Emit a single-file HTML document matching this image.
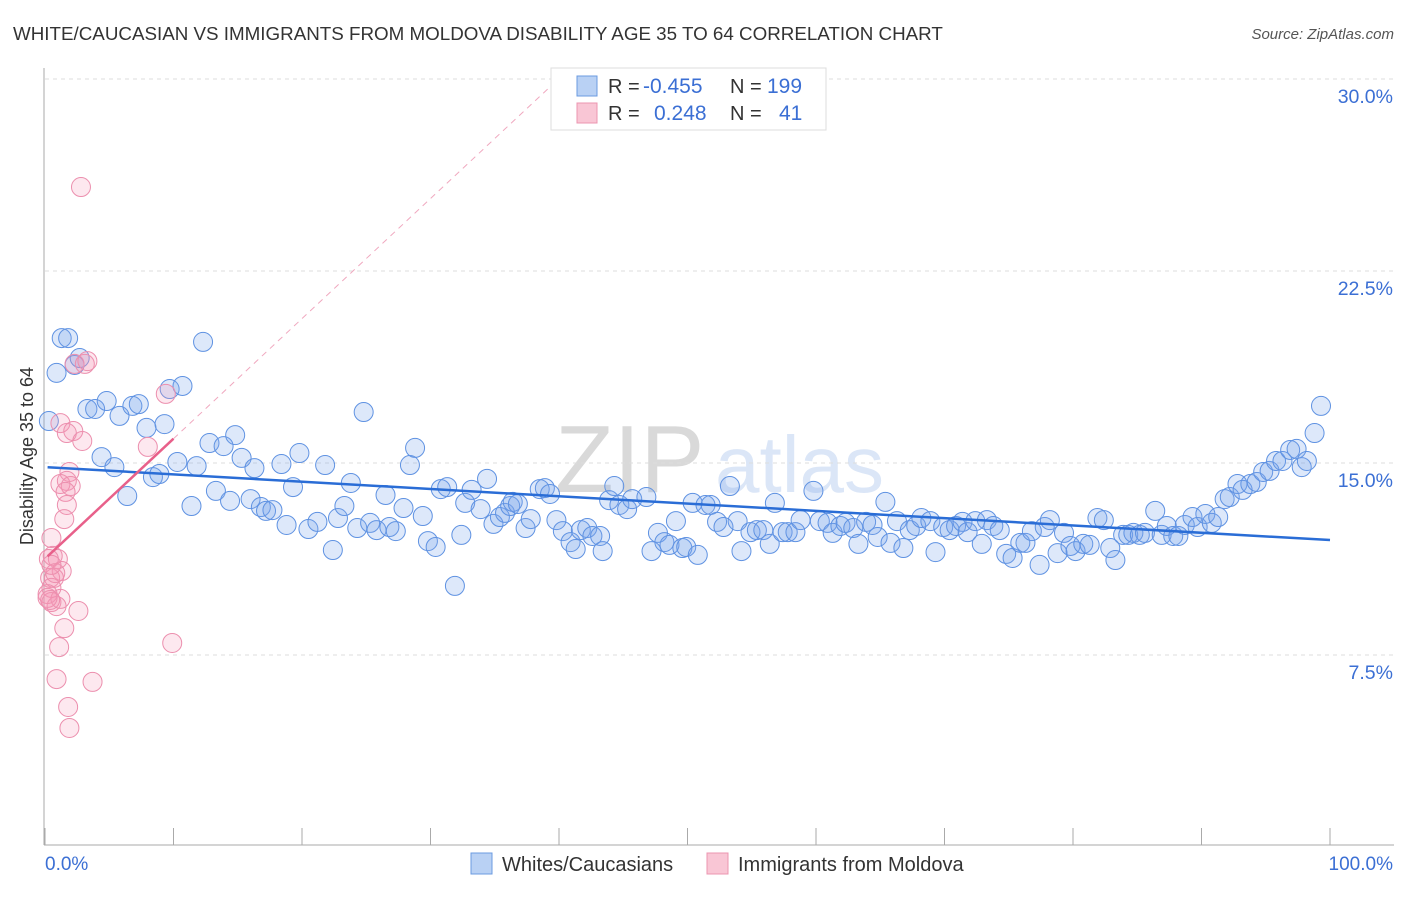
<!DOCTYPE html>
<html><head><meta charset="utf-8"><style>
body{margin:0;background:#fff;font-family:"Liberation Sans",sans-serif;}
svg text{font-family:"Liberation Sans",sans-serif;}
</style></head><body>
<svg id="chart" width="1406" height="892" xmlns="http://www.w3.org/2000/svg">
<text x="13" y="40" font-size="18.8" fill="#333">WHITE/CAUCASIAN VS IMMIGRANTS FROM MOLDOVA DISABILITY AGE 35 TO 64 CORRELATION CHART</text>
<text x="1394" y="39" font-size="15" fill="#555" font-style="italic" text-anchor="end">Source: ZipAtlas.com</text>
<g>
<text x="555" y="492" font-family="Liberation Serif,serif" font-size="96" fill="#d9d9d9">ZIP</text>
<text x="715" y="492" font-size="80" fill="#dbe6f7">atlas</text>
</g>
<g id="grid"></g>
<g id="axes"></g>
<g id="pts"></g>
<g id="trend"></g>
<text transform="translate(33,456) rotate(-90)" font-size="18" fill="#333" text-anchor="middle">Disability Age 35 to 64</text>
<g>
<rect x="551" y="68" width="275" height="62" fill="#fff" stroke="#ddd"/>
<rect x="577" y="76" width="20" height="20" fill="#b9d1f4" stroke="#6b9be0"/>
<rect x="577" y="103" width="20" height="20" fill="#f9c6d5" stroke="#ec95b0"/>
<text x="608" y="93" font-size="20" fill="#333">R =</text>
<text x="643" y="93" font-size="21" fill="#3b6fd4">-0.455</text>
<text x="730" y="93" font-size="20" fill="#333">N =</text>
<text x="767" y="93" font-size="21" fill="#3b6fd4">199</text>
<text x="608" y="120" font-size="20" fill="#333">R =</text>
<text x="654" y="120" font-size="21" fill="#3b6fd4">0.248</text>
<text x="730" y="120" font-size="20" fill="#333">N =</text>
<text x="779" y="120" font-size="21" fill="#3b6fd4">41</text>
</g>
<g>
<rect x="471" y="853" width="21" height="21" fill="#b9d1f4" stroke="#6b9be0"/>
<text x="502" y="871" font-size="20" fill="#333">Whites/Caucasians</text>
<rect x="707" y="853" width="21" height="21" fill="#f9c6d5" stroke="#ec95b0"/>
<text x="738" y="871" font-size="20" fill="#333">Immigrants from Moldova</text>
</g>
</svg>
<script>
const yTicks=[7.5,15,22.5,30];
const yTickLabels=["7.5%","15.0%","22.5%","30.0%"];
const xTicks=[0,10,20,30,40,50,60,70,80,90,100];
const blueX=[0.3,0.9,1.3,1.8,2.3,2.7,3.3,3.9,4.4,4.8,5.4,5.8,6.4,6.8,7.3,7.9,8.4,8.9,9.3,9.7,10.3,10.7,11.4,11.8,12.3,12.8,13.3,13.9,14.4,14.8,15.3,16.0,16.3,16.8,17.2,17.7,18.4,18.8,19.3,19.8,20.5,21.2,21.8,22.4,22.8,23.3,23.8,24.3,24.8,25.3,25.8,26.5,26.8,27.3,27.9,28.4,28.8,29.4,29.8,30.4,30.8,31.3,31.9,32.4,32.7,33.2,33.9,34.4,34.9,35.4,35.8,36.2,36.4,36.8,37.4,37.8,38.5,38.9,39.3,39.8,40.3,40.9,41.3,41.7,42.2,42.6,43.2,43.4,43.9,44.3,44.7,45.3,45.7,46.8,47.2,47.7,48.2,48.6,49.1,49.6,49.9,50.4,50.8,51.4,51.8,52.3,52.8,53.3,53.9,54.2,54.9,55.4,55.9,56.4,56.8,57.4,57.8,58.4,58.8,59.8,60.3,60.9,61.3,61.9,62.3,62.9,63.3,63.9,64.4,64.8,65.4,65.8,66.3,66.8,67.3,67.8,68.2,68.9,69.3,69.9,70.4,70.9,71.4,71.8,72.4,72.9,73.3,73.8,74.3,74.8,75.3,75.9,76.3,76.8,77.4,77.8,78.2,78.8,79.3,79.8,80.2,80.8,81.3,81.9,82.4,82.9,83.3,83.9,84.3,84.7,85.2,85.6,86.4,86.9,87.3,87.8,88.2,88.7,89.3,89.7,90.3,90.8,91.3,91.8,92.2,92.8,93.2,93.8,94.3,94.8,95.3,95.8,96.3,96.9,97.4,97.8,98.2,98.8,99.3];
const blueY=[16.64,18.52,19.88,19.88,18.83,19.10,17.11,17.11,15.23,17.42,14.84,16.84,13.71,17.23,17.30,16.37,14.45,14.57,16.52,17.89,15.04,18.01,13.32,14.88,19.73,15.78,13.91,15.66,13.52,16.09,15.20,13.59,14.80,13.28,13.13,13.16,14.96,12.58,14.06,15.39,12.42,12.70,14.92,11.60,12.85,13.32,14.22,12.46,16.99,12.66,12.38,13.75,12.50,12.34,13.24,14.92,15.59,12.93,11.95,11.72,13.98,14.06,10.20,12.19,13.44,13.95,13.20,14.38,12.62,12.89,13.05,13.32,13.48,13.40,12.46,12.81,13.98,14.02,13.79,12.77,12.34,11.91,11.64,12.38,12.46,12.15,12.15,11.56,13.55,14.10,13.36,13.20,13.59,13.67,11.56,12.27,11.91,11.80,12.73,11.68,11.72,13.44,11.41,13.36,13.36,12.70,12.50,14.10,12.73,11.56,12.30,12.38,12.38,11.84,13.44,12.30,12.30,12.30,12.77,13.91,12.73,12.66,12.27,12.54,12.66,12.46,11.84,12.70,12.58,12.11,13.48,11.88,12.73,11.68,12.38,12.54,12.85,12.73,11.52,12.50,12.38,12.54,12.70,12.30,12.73,11.84,12.77,12.54,12.38,11.45,11.29,11.88,11.88,12.34,11.02,12.50,12.77,11.48,12.27,11.76,11.56,11.84,11.80,12.85,12.77,11.68,11.21,12.19,12.19,12.27,12.19,12.27,13.13,12.19,12.54,12.15,12.15,12.58,12.89,12.50,13.01,12.66,12.89,13.59,13.67,14.18,13.95,14.18,14.26,14.65,14.69,15.08,15.08,15.51,15.55,14.84,15.08,16.17,17.23];
const pinkX=[2.8,2.3,3.1,3.3,9.4,1.2,2.2,1.7,2.9,8.0,1.9,1.7,1.2,2.0,1.6,1.7,1.5,0.5,0.6,1.0,0.3,1.3,0.4,0.7,0.5,0.2,0.5,1.2,2.6,0.9,1.5,1.1,9.9,0.9,3.7,1.8,1.9,0.8,0.5,0.2,0.4];
const pinkY=[25.78,18.87,18.87,18.98,17.70,16.56,16.25,16.17,15.86,15.63,14.65,14.30,14.18,14.10,13.87,13.36,12.81,12.07,11.37,11.25,11.25,10.78,10.51,10.51,10.12,9.88,9.57,9.69,9.22,9.41,8.55,7.81,7.97,6.56,6.45,5.47,4.65,10.70,11.02,9.73,9.65];
const blueTrend=[14.84,11.99]; // value at x=0 and x=100
const pinkTrend=[11.26,0.469]; // intercept, slope
const NS="http://www.w3.org/2000/svg";
function sx(v){return 45+v*12.85;}
function sy(v){return 847-v*25.6;}
function mk(tag,attrs,parent){const e=document.createElementNS(NS,tag);for(const k in attrs)e.setAttribute(k,attrs[k]);document.getElementById(parent).appendChild(e);return e;}
yTicks.forEach((t,i)=>{
 const l=mk('line',{x1:45,x2:1394,y1:sy(t),y2:sy(t),stroke:'#ddd','stroke-dasharray':'4,4'},'grid');
 
 
 const tx=mk('text',{x:1393,y:sy(t)+24,'font-size':19.5,fill:'#3b6fd4','text-anchor':'end'},'grid');
 tx.textContent=yTickLabels[i];
 
 
});
const ax=mk('line',{x1:44,x2:44,y1:68,y2:845,stroke:'#aaa'},'axes');


const bx=mk('line',{x1:44,x2:1394,y1:845,y2:845,stroke:'#aaa'},'axes');


xTicks.forEach(t=>{
 const l=mk('line',{x1:sx(t),x2:sx(t),y1:828,y2:845,stroke:'#aaa'},'axes');
 
 
});
const xl0=mk('text',{x:45,y:870,'font-size':19,fill:'#3b6fd4'},'axes');xl0.textContent='0.0%';


const xl1=mk('text',{x:1393,y:870,'font-size':19,fill:'#3b6fd4','text-anchor':'end'},'axes');xl1.textContent='100.0%';


blueX.forEach((x,i)=>{
 const c=mk('circle',{cx:sx(x),cy:sy(blueY[i]),r:9.5,fill:'rgba(120,165,235,0.25)',stroke:'#5f92e2','stroke-width':1},'pts');
 
 
});
pinkX.forEach((x,i)=>{
 const c=mk('circle',{cx:sx(x),cy:sy(pinkY[i]),r:9.5,fill:'rgba(245,150,180,0.22)',stroke:'#ec8fae','stroke-width':1},'pts');
 
 
});
const bt=mk('line',{x1:sx(0.2),y1:sy(blueTrend[0]+(blueTrend[1]-blueTrend[0])*0.002),x2:sx(100),y2:sy(blueTrend[1]),stroke:'#2a6dd6','stroke-width':2.5},'trend');


const xEnd=(30-pinkTrend[0])/pinkTrend[1];
const pd=mk('line',{x1:sx(10),y1:sy(pinkTrend[0]+pinkTrend[1]*10),x2:sx(xEnd),y2:sy(30),stroke:'#f0a8bf','stroke-width':1,'stroke-dasharray':'6,5'},'trend');


const pt=mk('line',{x1:sx(0.2),y1:sy(pinkTrend[0]+pinkTrend[1]*0.2),x2:sx(10),y2:sy(pinkTrend[0]+pinkTrend[1]*10),stroke:'#e8608a','stroke-width':2.5},'trend');


</script>
</body></html>
